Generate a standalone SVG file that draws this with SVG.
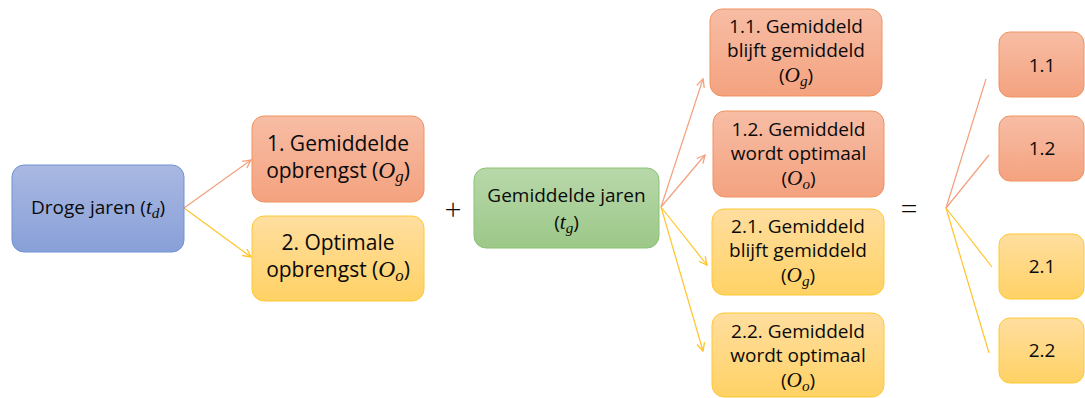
<svg xmlns="http://www.w3.org/2000/svg" width="1085" height="398" viewBox="0 0 1085 398">
<defs>
<linearGradient id="gBlue" x1="0" y1="0" x2="0" y2="1"><stop offset="0" stop-color="#aab8e2"/><stop offset="1" stop-color="#88a0d8"/></linearGradient>
<linearGradient id="gOrange" x1="0" y1="0" x2="0" y2="1"><stop offset="0" stop-color="#f7bda5"/><stop offset="1" stop-color="#f4a27f"/></linearGradient>
<linearGradient id="gYellow" x1="0" y1="0" x2="0" y2="1"><stop offset="0" stop-color="#ffde9f"/><stop offset="1" stop-color="#ffd265"/></linearGradient>
<linearGradient id="gGreen" x1="0" y1="0" x2="0" y2="1"><stop offset="0" stop-color="#b8d8aa"/><stop offset="1" stop-color="#9cc888"/></linearGradient>
<marker id="aO" viewBox="0 0 10 10" refX="9" refY="5" markerWidth="10" markerHeight="10" markerUnits="userSpaceOnUse" orient="auto"><path d="M1,1 L9,5 L1,9" fill="none" stroke="#f3a07c" stroke-width="1.3"/></marker>
<marker id="aY" viewBox="0 0 10 10" refX="9" refY="5" markerWidth="10" markerHeight="10" markerUnits="userSpaceOnUse" orient="auto"><path d="M1,1 L9,5 L1,9" fill="none" stroke="#ffc42a" stroke-width="1.3"/></marker>
</defs>
<style>
.blue{fill:url(#gBlue);stroke:#7191d4;stroke-width:1}
.orange{fill:url(#gOrange);stroke:#f0935f;stroke-width:1}
.yellow{fill:url(#gYellow);stroke:#ffc834;stroke-width:1}
.green{fill:url(#gGreen);stroke:#8bc274;stroke-width:1}
.t{font-family:"Open Sans","Liberation Sans",sans-serif;font-size:19px;fill:#0a0a0a;text-anchor:middle}
.tb{font-size:21px}
.m{font-family:"Liberation Serif",serif;font-style:italic;font-size:1.12em}
.s{font-family:"Liberation Serif",serif;font-style:italic;font-size:0.8em}
.op{font-size:30px;font-weight:300}
.co{stroke:#f3a07c;stroke-width:1.2;fill:none}
.cy{stroke:#ffc42a;stroke-width:1.2;fill:none}
</style>
<g id="connectors">
<line class="co" x1="184" y1="208" x2="251" y2="160" marker-end="url(#aO)"/>
<line class="cy" x1="184" y1="208" x2="251" y2="257" marker-end="url(#aY)"/>
<line class="co" x1="661" y1="207" x2="703" y2="79" marker-end="url(#aO)"/>
<line class="co" x1="661" y1="207" x2="705" y2="155" marker-end="url(#aO)"/>
<line class="cy" x1="661" y1="207" x2="707" y2="265" marker-end="url(#aY)"/>
<line class="cy" x1="661" y1="207" x2="703" y2="351" marker-end="url(#aY)"/>
<line class="co" x1="946" y1="208" x2="986" y2="79"/>
<line class="co" x1="946" y1="208" x2="989" y2="155"/>
<line class="cy" x1="946" y1="208" x2="992" y2="267"/>
<line class="cy" x1="946" y1="208" x2="989" y2="353"/>
</g>
<g id="droge">
<rect class="blue" x="12" y="165" width="172" height="87" rx="12"/>
<text class="t" x="98" y="214">Droge jaren (<tspan class="m">t</tspan><tspan class="s" dy="4">d</tspan><tspan dy="-4">)</tspan></text>
</g>
<g id="n1">
<rect class="orange" x="252" y="116" width="172" height="86" rx="12"/>
<text class="t tb" x="338" y="151">1. Gemiddelde</text>
<text class="t tb" x="338" y="178">opbrengst (<tspan class="m">O</tspan><tspan class="s" dy="4">g</tspan><tspan dy="-4">)</tspan></text>
</g>
<g id="n2">
<rect class="yellow" x="252" y="216" width="172" height="85" rx="12"/>
<text class="t tb" x="338" y="250">2. Optimale</text>
<text class="t tb" x="338" y="277">opbrengst (<tspan class="m">O</tspan><tspan class="s" dy="4">o</tspan><tspan dy="-4">)</tspan></text>
</g>
<g id="plus"><text class="t op" x="453" y="220">+</text></g>
<g id="gemiddeld">
<rect class="green" x="474" y="168" width="185" height="80" rx="12"/>
<text class="t" x="566.5" y="202">Gemiddelde jaren</text>
<text class="t" x="566.5" y="229">(<tspan class="m">t</tspan><tspan class="s" dy="4">g</tspan><tspan dy="-4">)</tspan></text>
</g>
<g id="n11">
<rect class="orange" x="710" y="9" width="172" height="87" rx="12"/>
<text class="t" x="796" y="33">1.1. Gemiddeld</text>
<text class="t" x="796" y="57">blijft gemiddeld</text>
<text class="t" x="796" y="82">(<tspan class="m">O</tspan><tspan class="s" dy="4">g</tspan><tspan dy="-4">)</tspan></text>
</g>
<g id="n12">
<rect class="orange" x="713" y="111" width="171" height="86" rx="12"/>
<text class="t" x="798.5" y="136">1.2. Gemiddeld</text>
<text class="t" x="798.5" y="160">wordt optimaal</text>
<text class="t" x="798.5" y="185">(<tspan class="m">O</tspan><tspan class="s" dy="4">o</tspan><tspan dy="-4">)</tspan></text>
</g>
<g id="n21">
<rect class="yellow" x="712" y="209" width="172" height="86" rx="12"/>
<text class="t" x="798" y="233">2.1. Gemiddeld</text>
<text class="t" x="798" y="257">blijft gemiddeld</text>
<text class="t" x="798" y="282">(<tspan class="m">O</tspan><tspan class="s" dy="4">g</tspan><tspan dy="-4">)</tspan></text>
</g>
<g id="n22">
<rect class="yellow" x="712" y="313" width="172" height="84" rx="12"/>
<text class="t" x="798" y="338">2.2. Gemiddeld</text>
<text class="t" x="798" y="362">wordt optimaal</text>
<text class="t" x="798" y="387">(<tspan class="m">O</tspan><tspan class="s" dy="4">o</tspan><tspan dy="-4">)</tspan></text>
</g>
<g id="equals"><text class="t op" x="909" y="219">=</text></g>
<g id="r11"><rect class="orange" x="999" y="32" width="85" height="65" rx="11"/><text class="t" x="1042" y="72">1.1</text></g>
<g id="r12"><rect class="orange" x="999" y="116" width="85" height="65" rx="11"/><text class="t" x="1042" y="155">1.2</text></g>
<g id="r21"><rect class="yellow" x="999" y="234" width="85" height="65" rx="11"/><text class="t" x="1042" y="273">2.1</text></g>
<g id="r22"><rect class="yellow" x="999" y="318" width="85" height="65" rx="11"/><text class="t" x="1042" y="357">2.2</text></g>
</svg>
